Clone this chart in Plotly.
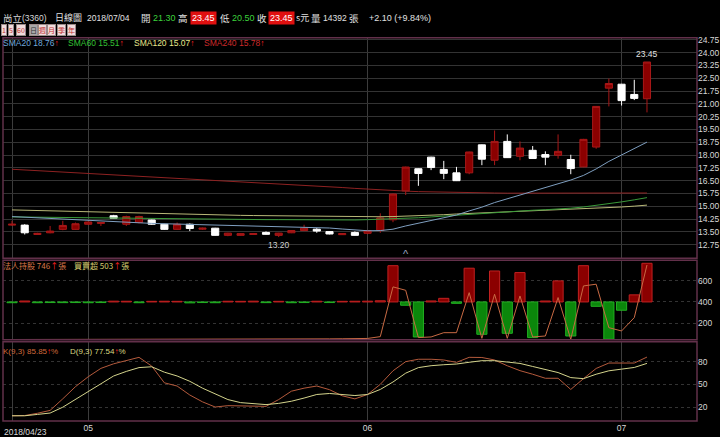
import plotly.graph_objects as go

W, H = 720, 437

dates = ["04/23", "04/24", "04/25", "04/26", "04/27", "04/30",
         "05/02", "05/03", "05/04", "05/07", "05/08", "05/09", "05/10", "05/11",
         "05/14", "05/15", "05/16", "05/17", "05/18", "05/21", "05/22", "05/23",
         "05/24", "05/25", "05/28", "05/29", "05/30", "05/31",
         "06/01", "06/04", "06/05", "06/06", "06/07", "06/08", "06/11", "06/12",
         "06/13", "06/14", "06/15", "06/19", "06/20", "06/21", "06/22", "06/25",
         "06/26", "06/27", "06/28", "06/29",
         "07/02", "07/03", "07/04"]

opens = [13.90, 13.90, 13.35, 13.45, 13.65, 13.65, 13.95, 14.00, 14.45, 13.95, 14.05,
         14.20, 13.95, 13.65, 13.95, 13.66, 13.72, 13.30, 13.30, 13.35, 13.47, 13.30,
         13.45, 13.58, 13.66, 13.52, 13.34, 13.47, 13.42, 13.58, 14.21, 15.90, 17.20,
         17.88, 17.16, 16.96, 16.96, 18.60, 17.70, 18.80, 17.93, 18.28, 18.03, 17.99,
         17.74, 17.31, 18.47, 21.92, 22.15, 21.55, 21.30]
highs = [14.15, 13.95, 13.45, 13.85, 14.15, 14.05, 14.10, 14.08, 14.50, 14.45, 14.45,
         14.22, 13.98, 14.05, 14.00, 13.75, 13.74, 13.45, 13.42, 13.42, 13.53, 13.45,
         13.60, 13.92, 13.72, 13.54, 13.42, 13.53, 13.60, 14.59, 15.75, 17.32, 17.22,
         17.90, 17.66, 17.31, 18.20, 18.62, 19.44, 19.21, 18.80, 18.53, 18.22, 19.21,
         18.02, 18.95, 20.87, 22.48, 22.17, 22.41, 23.45]
lows = [13.85, 13.35, 13.33, 13.42, 13.60, 13.62, 13.92, 13.85, 14.28, 13.85, 14.00,
        13.92, 13.62, 13.62, 13.55, 13.62, 13.28, 13.25, 13.28, 13.33, 13.34, 13.20,
        13.43, 13.55, 13.45, 13.36, 13.32, 13.28, 13.40, 13.45, 14.07, 15.66, 16.20,
        17.12, 16.59, 16.48, 16.88, 17.41, 17.41, 17.83, 17.70, 17.78, 17.41, 17.79,
        16.88, 17.29, 18.37, 20.85, 20.90, 21.22, 20.50]
closes = [13.95, 13.45, 13.42, 13.55, 13.88, 13.98, 14.08, 14.05, 14.30, 14.40, 14.40,
          13.95, 13.65, 13.95, 13.70, 13.72, 13.30, 13.43, 13.40, 13.40, 13.36, 13.43,
          13.58, 13.72, 13.55, 13.38, 13.40, 13.30, 13.58, 14.32, 15.72, 17.30, 16.92,
          17.27, 16.93, 16.50, 18.18, 17.76, 18.80, 17.85, 18.41, 17.80, 17.88, 18.22,
          17.21, 18.92, 20.85, 22.19, 21.19, 21.32, 23.45]

sma20 = [14.40, 14.36, 14.32, 14.28, 14.24, 14.20, 14.16, 14.12, 14.09, 14.06, 14.03,
         14.00, 13.98, 13.96, 13.94, 13.92, 13.90, 13.88, 13.86, 13.84, 13.82, 13.80,
         13.79, 13.78, 13.76, 13.73, 13.67, 13.61, 13.57, 13.58, 13.66, 13.85, 14.02,
         14.19, 14.35, 14.49, 14.73, 14.95, 15.22, 15.44, 15.70, 15.91, 16.13, 16.35,
         16.54, 16.81, 17.19, 17.63, 18.01, 18.36, 18.76]
sma60 = [14.38, 14.37, 14.36, 14.35, 14.34, 14.33, 14.32, 14.31, 14.30, 14.30, 14.29,
         14.28, 14.27, 14.27, 14.26, 14.25, 14.24, 14.24, 14.23, 14.23, 14.22, 14.22,
         14.21, 14.21, 14.20, 14.20, 14.20, 14.20, 14.22, 14.24, 14.27, 14.30, 14.33,
         14.38, 14.43, 14.49, 14.55, 14.60, 14.65, 14.69, 14.74, 14.77, 14.80, 14.83,
         14.89, 14.96, 15.05, 15.15, 15.26, 15.38, 15.51]
sma120 = [14.79, 14.77, 14.75, 14.73, 14.71, 14.69, 14.67, 14.65, 14.63, 14.61, 14.59,
          14.57, 14.55, 14.53, 14.52, 14.50, 14.49, 14.48, 14.47, 14.46, 14.45, 14.44,
          14.43, 14.42, 14.41, 14.40, 14.39, 14.39, 14.38, 14.39, 14.40, 14.42, 14.45,
          14.48, 14.51, 14.55, 14.58, 14.61, 14.64, 14.67, 14.70, 14.72, 14.75, 14.78,
          14.81, 14.84, 14.88, 14.92, 14.96, 15.01, 15.07]
sma240 = [17.17, 17.13, 17.09, 17.05, 17.01, 16.97, 16.93, 16.89, 16.85, 16.82, 16.78,
          16.74, 16.70, 16.66, 16.62, 16.58, 16.54, 16.50, 16.46, 16.42, 16.38, 16.34,
          16.30, 16.25, 16.20, 16.15, 16.10, 16.05, 16.00, 15.96, 15.92, 15.89, 15.86,
          15.84, 15.82, 15.81, 15.80, 15.79, 15.78, 15.77, 15.77, 15.76, 15.76, 15.75,
          15.75, 15.75, 15.75, 15.75, 15.76, 15.77, 15.78]

# 買賣超 (張) and 法人持股
net_buy = [-10, 12, -10, -8, -9, -8, -10, -8, 10, 9, -10, 8, 9, 8, -12, -8, -10, 9, 8,
           10, -9, 8, -10, -8, 9, -8, 8, 9, 10, 15, 472, -43, -456, 13, 47, -18, 439,
           -421, 403, -408, 382, -464, 12, 274, -443, 472, -57, -485, -108, 92, 503]
holdings = [48, 48, 47, 47, 47, 47, 48, 48, 48, 48, 48, 49, 49, 50, 50, 50, 50, 50, 51,
            51, 51, 52, 52, 52, 53, 54, 55, 56, 58, 75, 541, 509, 66, 72, 112, 112, 487,
            59, 472, 59, 456, 72, 81, 441, 50, 550, 566, 159, 128, 253, 746]

k_vals = [8.7, 9.0, 12.0, 15.8, 31.0, 47.0, 60.0, 71.0, 77.0, 81.0, 85.5, 74.0, 52.0,
          47.8, 36.0, 27.0, 20.2, 22.0, 21.5, 21.0, 21.1, 30.0, 41.0, 45.0, 47.8, 43.0,
          35.0, 30.9, 36.7, 50.0, 67.8, 79.8, 83.0, 83.0, 82.0, 78.9, 85.5, 85.3, 82.0,
          74.4, 68.0, 63.3, 58.0, 58.0, 43.3, 57.5, 70.9, 78.0, 78.0, 78.0, 85.85]
d_vals = [8.7, 8.7, 10.5, 12.3, 20.0, 30.0, 40.0, 50.0, 61.0, 67.0, 72.0, 73.1, 66.0,
          61.0, 54.0, 45.0, 37.0, 30.0, 26.0, 24.5, 23.4, 25.0, 27.8, 32.0, 36.7, 38.0,
          37.0, 35.3, 36.7, 43.3, 53.1, 64.7, 72.0, 74.5, 75.8, 76.7, 79.0, 81.1, 81.1,
          79.5, 77.5, 73.5, 69.0, 65.5, 58.9, 57.5, 63.3, 67.8, 70.0, 72.2, 77.54]

idx = list(range(len(dates)))
month_ticks = [0, 6, 28, 48]
month_text = ["", "05", "06", "07"]
price_ticks = [12.75 + 0.75 * k for k in range(17)]

FONT = "Liberation Sans, Arial, sans-serif"
CJK = "Noto Sans CJK TC, sans-serif"
GRID = "#333333"
BORDER = "#62304a"
UP = "↑"


def P(x, y):
    return x / W, 1 - y / H


fig = go.Figure()

# moving averages
for vals, col in [(sma240, "#8e2222"), (sma120, "#b8b878"), (sma60, "#3a9a3a"), (sma20, "#7f9fc0")]:
    fig.add_trace(go.Scatter(x=idx, y=vals, mode="lines", line=dict(color=col, width=1),
                             xaxis="x", yaxis="y", hoverinfo="skip", showlegend=False))

fig.add_trace(go.Candlestick(
    x=idx, open=opens, high=highs, low=lows, close=closes,
    increasing=dict(line=dict(color="#a81818", width=1), fillcolor="#8b0000"),
    decreasing=dict(line=dict(color="#ffffff", width=1), fillcolor="#ffffff"),
    whiskerwidth=0, xaxis="x", yaxis="y", showlegend=False, hoverinfo="skip"))

# 買賣超 bars + 法人持股 line
fig.add_trace(go.Bar(
    x=idx, y=net_buy, width=0.8,
    marker=dict(color=["#8b0000" if v >= 0 else "#0b870b" for v in net_buy],
                line=dict(color=["#c02020" if v >= 0 else "#22b022" for v in net_buy], width=1)),
    xaxis="x2", yaxis="y2", showlegend=False, hoverinfo="skip"))
fig.add_trace(go.Scatter(x=idx, y=holdings, mode="lines", line=dict(color="#c86a44", width=1),
                         xaxis="x2", yaxis="y3", showlegend=False, hoverinfo="skip"))

# KD
fig.add_trace(go.Scatter(x=idx, y=k_vals, mode="lines", line=dict(color="#b45a3c", width=1),
                         xaxis="x3", yaxis="y4", showlegend=False, hoverinfo="skip"))
fig.add_trace(go.Scatter(x=idx, y=d_vals, mode="lines", line=dict(color="#d4d48c", width=1),
                         xaxis="x3", yaxis="y4", showlegend=False, hoverinfo="skip"))

xdom = [3 / W, 697 / W]
xr = [-0.71, 53.94]
xcommon = dict(domain=xdom, range=xr, tickvals=month_ticks, showgrid=True, gridcolor="#3c3c3c",
               zeroline=False, showline=False, ticks="", fixedrange=True)
ycommon = dict(side="right", showgrid=True, gridcolor=GRID, zeroline=False, showline=False,
               ticks="", tickfont=dict(family=FONT, size=8.5, color="#d8d8d8"), fixedrange=True)

fig.update_layout(
    width=W, height=H, margin=dict(l=0, r=0, t=0, b=0),
    paper_bgcolor="#000000", plot_bgcolor="#000000",
    boxgap=0.2, bargap=0.2,
    xaxis=dict(xcommon, anchor="y", showticklabels=False, rangeslider=dict(visible=False)),
    xaxis2=dict(xcommon, anchor="y2", showticklabels=False, matches="x"),
    xaxis3=dict(xcommon, anchor="y4", ticktext=month_text, matches="x",
                tickfont=dict(family=FONT, size=8.5, color="#d8d8d8")),
    yaxis=dict(ycommon, domain=[1 - 257 / H, 1 - 35 / H], range=[11.96, 24.87], anchor="x",
               tickvals=price_ticks, ticktext=["%.2f" % v for v in price_ticks]),
    yaxis2=dict(domain=[1 - 339 / H, 1 - 259 / H], range=[-491, 543], anchor="x2",
                visible=False, fixedrange=True),
    yaxis3=dict(ycommon, overlaying="y2", anchor="x2", range=[46.5, 790.7],
                tickvals=[200, 400, 600], griddash="dot"),
    yaxis4=dict(ycommon, domain=[1 - 421 / H, 1 - 341 / H], range=[1.7, 106.1], anchor="x3",
                tickvals=[20, 50, 80], griddash="dot"),
)

shapes = []
for xa, ya in [("x", "y"), ("x2", "y2"), ("x3", "y4")]:
    shapes.append(dict(type="rect", xref=xa + " domain", yref=ya + " domain", x0=0, x1=1, y0=0, y1=1,
                       line=dict(color=BORDER, width=1.5), layer="above"))
fig.update_layout(shapes=shapes)

ann = []


def text(x, y, s, color="#e0e0e0", size=8.5, bg=None, family=FONT, anchor="left", border=None, pad=0):
    px_, py_ = P(x, y)
    d = dict(x=px_, y=py_, xref="paper", yref="paper", text=s, showarrow=False,
             xanchor=anchor, yanchor="middle", font=dict(family=family, size=size, color=color),
             borderpad=pad)
    if bg:
        d["bgcolor"] = bg
    if border:
        d["bordercolor"] = border
        d["borderwidth"] = 1
    ann.append(d)


red_up = "<span style='color:#ff2020'>" + UP + "</span>"

# header line
text(2, 15, "尚立", "#d8d8d8", 9.5, family=CJK)
text(21, 15, "(3360)", "#d8d8d8", 8.5)
text(54, 15, "日線圖", "#e0e0e0", 9, family=CJK)
text(86, 15, "2018/07/04", "#e0e0e0", 8.5)
text(140, 15, "開", "#e0e0e0", 9.5, family=CJK)
text(152, 15, "21.30", "#3cd23c", 9)
text(177, 15, "高", "#e0e0e0", 9.5, family=CJK)
text(190, 15, "23.45", "#ffffff", 9, bg="#e01010", pad=1)
text(219, 15, "低", "#e0e0e0", 9.5, family=CJK)
text(231, 15, "20.50", "#3cd23c", 9)
text(256, 15, "收", "#e0e0e0", 9.5, family=CJK)
text(268, 15, "23.45", "#ffffff", 9, bg="#e01010", pad=1)
text(295, 15, "s元", "#e0e0e0", 9, family=CJK)
text(310, 15, "量", "#e0e0e0", 9.5, family=CJK)
text(322, 15, "14392", "#e0e0e0", 8.5)
text(348, 15, "張", "#e0e0e0", 9.5, family=CJK)
text(368, 15, "+2.10 (+9.84%)", "#e0e0e0", 9)

# period buttons
btn_x = [1, 8, 16, 29, 38, 47, 57, 67]
btn_t = ["1", "5", "60", "日", "週", "月", "季", "年"]
for bx, bt in zip(btn_x, btn_t):
    sel = bt == "日"
    text(bx, 27, bt, "#303030" if sel else "#c03030", 7,
         bg="#a8a8a8" if sel else "#f0dcdc", family=CJK, border="#9a8a8a")

# MA legend
text(2, 40, "SMA20 18.76" + red_up, "#6fa8dc", 8.5)
text(67, 40, "SMA60 15.51" + red_up, "#33c033", 8.5)
text(133, 40, "SMA120 15.07" + red_up, "#e6e68a", 8.5)
text(203, 40, "SMA240 15.78" + red_up, "#cc2a2a", 8.5)

text(2, 264, "法人持股 746" + red_up + "張", "#d87848", 8, family=CJK)
text(73, 264, "買賣超 503" + red_up + "張", "#d8d070", 8, family=CJK)
text(2, 351, "K(9,3) 85.85" + red_up + "%", "#d0683a", 8)
text(69, 351, "D(9,3) 77.54" + red_up + "%", "#d8d880", 8)

text(3, 432, "2018/04/23", "#d8d8d8", 8.5)

fig.update_layout(annotations=ann + [
    dict(x=50, y=highs[50], xref="x", yref="y", text="23.45", showarrow=False, yanchor="bottom",
         yshift=1, font=dict(family=FONT, size=8.5, color="#e0e0e0")),
    dict(x=21, y=lows[21], xref="x", yref="y", text="13.20", showarrow=False, yanchor="top",
         yshift=-1, font=dict(family=FONT, size=8.5, color="#d0d0d0")),
    dict(x=31, y=12.2, xref="x", yref="y", text="^", showarrow=False,
         font=dict(family=FONT, size=11, color="#9aa8c0")),
])

fig.write_html("out.html", config={"displayModeBar": False},
               post_script="document.body.style.margin='0px';")
